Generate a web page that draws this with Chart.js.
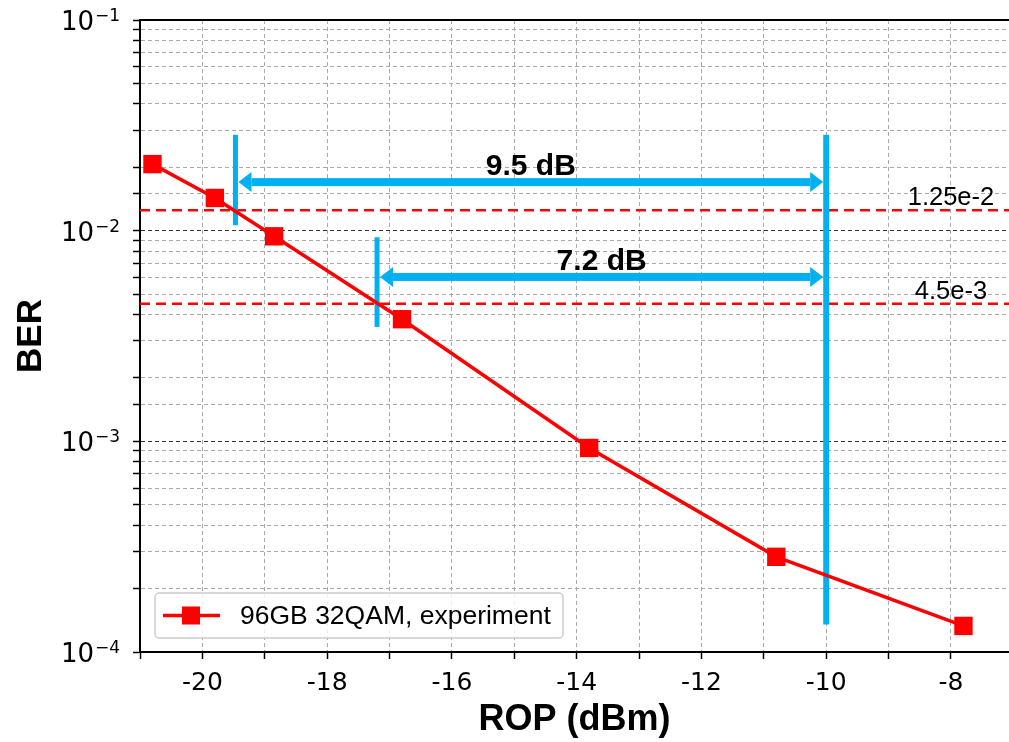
<!DOCTYPE html>
<html>
<head>
<meta charset="utf-8">
<script src="https://cdn.jsdelivr.net/npm/chart.js@4.4.0/dist/chart.umd.min.js"></script>
<style>
  html, body { margin: 0; padding: 0; background: #fff; overflow: hidden; }
  #wrap { width: 1009px; height: 742px; position: relative; }
</style>
</head>
<body>
<div id="wrap"><canvas id="chart"></canvas></div>
<script>
// measured points
const ropDbm = [-20.8, -19.8, -18.85, -16.8, -13.8, -10.8, -7.8];
const berValues = [2.07e-2, 1.43e-2, 9.4e-3, 3.8e-3, 9.3e-4, 2.83e-4, 1.33e-4];

// FEC thresholds
const fecLimits = [1.25e-2, 4.5e-3];
const fecLabels = ["1.25e-2", "4.5e-3"];
const fecLabelX = -8;

// power margin markers
const marginStart = [-19.47, -17.2];
const marginEnd = -10;
const marginLabels = ["9.5 dB", "7.2 dB"];
const marginArrowY = [1.7e-2, 6.03e-3];
const marginLineTop = [2.85e-2, 9.3e-3];
const marginLineBottom = [1.06e-2, 3.49e-3];
const refLineSpan = [2.85e-2, 1.35e-4];

// axes
const xMin = -21;
const xMax = -7.07;
const yMin = 1e-4;
const yMax = 1e-1;
const yDecades = [1e-4, 1e-3, 1e-2, 1e-1];
const yDecadeExp = ["\u22124", "\u22123", "\u22122", "\u22121"];

const RED = "#ff0000";
const BLUE = "#00b0f0";
const ARIAL = "'Liberation Sans', Arial, sans-serif";
const DEJAVU = "'DejaVu Sans', sans-serif";

Chart.defaults.font.family = DEJAVU;
Chart.defaults.color = "#000";

function isDecade(v) {
  const l = Math.log10(v);
  return Math.abs(l - Math.round(l)) < 1e-6;
}

function vline(x, top, bottom, width) {
  return {
    type: "line",
    data: [{ x: x, y: top }, { x: x, y: bottom }],
    borderColor: BLUE,
    borderWidth: width,
    pointRadius: 0,
    order: 1,
  };
}

const datasets = [
  {
    label: "96GB 32QAM, experiment",
    type: "line",
    data: ropDbm.map((x, i) => ({ x, y: berValues[i] })),
    borderColor: RED,
    backgroundColor: RED,
    borderWidth: 3.5,
    pointStyle: "rect",
    pointRadius: 13,
    pointBorderWidth: 0,
    order: 0,
  },
  vline(marginEnd, refLineSpan[0], refLineSpan[1], 6),
];
marginStart.forEach((x, i) => {
  datasets.push(vline(x, marginLineTop[i], marginLineBottom[i], 5));
});
fecLimits.forEach((v) => {
  datasets.push({
    type: "line",
    data: [{ x: xMin, y: v }, { x: xMax, y: v }],
    borderColor: RED,
    borderWidth: 2.5,
    borderDash: [10, 6],
    pointRadius: 0,
    order: 2,
  });
});

function drawArrow(ctx, x1, x2, y) {
  const head = 13;
  const half = 10;
  ctx.fillStyle = BLUE;
  ctx.fillRect(x1 + head, y - 4, x2 - x1 - 2 * head, 8);
  ctx.beginPath();
  ctx.moveTo(x1, y);
  ctx.lineTo(x1 + head, y - half);
  ctx.lineTo(x1 + head, y + half);
  ctx.closePath();
  ctx.fill();
  ctx.beginPath();
  ctx.moveTo(x2, y);
  ctx.lineTo(x2 - head, y - half);
  ctx.lineTo(x2 - head, y + half);
  ctx.closePath();
  ctx.fill();
}

const annotations = {
  id: "annotations",
  afterDatasetsDraw(chart) {
    const { ctx, chartArea } = chart;
    const xs = chart.scales.x;
    const ys = chart.scales.y;
    ctx.save();

    // top frame line
    ctx.strokeStyle = "#000";
    ctx.lineWidth = 2;
    ctx.beginPath();
    ctx.moveTo(chartArea.left, chartArea.top);
    ctx.lineTo(chartArea.right, chartArea.top);
    ctx.stroke();

    // margin arrows + labels
    const xEnd = xs.getPixelForValue(marginEnd);
    marginStart.forEach((x, i) => {
      const x1 = xs.getPixelForValue(x) + 3;
      const x2 = xEnd - 3;
      const py = ys.getPixelForValue(marginArrowY[i]);
      drawArrow(ctx, x1, x2, py);
      ctx.fillStyle = "#000";
      ctx.font = "bold 30px " + ARIAL;
      ctx.textAlign = "center";
      ctx.textBaseline = "alphabetic";
      ctx.fillText(marginLabels[i], (x1 + x2) / 2, py - 7);
    });

    // FEC threshold labels
    ctx.font = "25.5px " + ARIAL;
    ctx.fillStyle = "#000";
    ctx.textAlign = "center";
    fecLimits.forEach((v, i) => {
      ctx.fillText(fecLabels[i], xs.getPixelForValue(fecLabelX), ys.getPixelForValue(v) - 5);
    });
    ctx.restore();
  },
  afterDraw(chart) {
    const { ctx, chartArea } = chart;
    const ys = chart.scales.y;
    ctx.save();

    // y tick labels as 10^n
    ctx.fillStyle = "#000";
    ctx.textBaseline = "alphabetic";
    yDecades.forEach((v, i) => {
      const py = ys.getPixelForValue(v);
      ctx.font = "26px " + DEJAVU;
      ctx.textAlign = "right";
      ctx.fillText("10", chartArea.left - 46, py + 10);
      ctx.font = "17px " + DEJAVU;
      ctx.textAlign = "left";
      ctx.fillText(yDecadeExp[i], chartArea.left - 45, py + 1);
    });

    // legend
    const lx = chartArea.left + 15;
    const ly = chartArea.bottom - 59;
    const lw = 408;
    const lh = 45;
    ctx.beginPath();
    ctx.roundRect(lx, ly, lw, lh, 4);
    ctx.fillStyle = "rgba(255,255,255,0.8)";
    ctx.fill();
    ctx.strokeStyle = "#cccccc";
    ctx.lineWidth = 1.5;
    ctx.stroke();
    const cy = ly + lh / 2;
    ctx.strokeStyle = RED;
    ctx.lineWidth = 3.5;
    ctx.beginPath();
    ctx.moveTo(lx + 8, cy);
    ctx.lineTo(lx + 65, cy);
    ctx.stroke();
    ctx.fillStyle = RED;
    ctx.fillRect(lx + 27, cy - 9, 18, 18);
    ctx.fillStyle = "#000";
    ctx.font = "26.5px " + ARIAL;
    ctx.textAlign = "left";
    ctx.textBaseline = "middle";
    ctx.fillText(datasets[0].label, lx + 85, cy + 1);
    ctx.restore();
  },
};

new Chart(document.getElementById("chart"), {
  type: "line",
  data: { datasets },
  options: {
    responsive: true,
    maintainAspectRatio: false,
    animation: false,
    devicePixelRatio: 1,
    layout: { autoPadding: false, padding: { top: 20, left: 0, right: 0, bottom: 0 } },
    plugins: {
      legend: { display: false },
      tooltip: { enabled: false },
    },
    scales: {
      x: {
        type: "linear",
        min: xMin,
        max: xMax,
        afterFit(scale) {
          scale.height = 90;
          scale.paddingLeft = 0;
          scale.paddingRight = 0;
        },
        ticks: {
          stepSize: 1,
          includeBounds: false,
          autoSkip: false,
          maxRotation: 0,
          padding: 9,
          font: { size: 25, family: DEJAVU },
          color: "#000",
          callback: (v) => (v % 2 === 0 ? String(v) : ""),
        },
        grid: {
          color: "#aaaaaa",
          lineWidth: 1,
          tickColor: "#000",
          tickLength: 7,
          tickWidth: 1.5,
        },
        border: { display: true, color: "#000", width: 2, dash: [4, 3] },
        title: {
          display: true,
          text: "ROP (dBm)",
          color: "#000",
          font: { family: ARIAL, size: 36, weight: "bold" },
          padding: { top: 0, bottom: 0 },
        },
      },
      y: {
        type: "logarithmic",
        min: yMin,
        max: yMax,
        afterFit(scale) {
          scale.width = 140;
          scale.paddingTop = 0;
          scale.paddingBottom = 0;
        },
        ticks: { display: false },
        grid: {
          color: (c) => (c.tick && isDecade(c.tick.value) ? "#333333" : "#aaaaaa"),
          lineWidth: 1,
          tickColor: "#000",
          tickLength: 7,
          tickWidth: 1.5,
        },
        border: { display: true, color: "#000", width: 2, dash: [4, 3] },
        title: {
          display: true,
          text: "BER",
          color: "#000",
          font: { family: ARIAL, size: 35, weight: "bold" },
          padding: { top: 10, bottom: 0 },
        },
      },
    },
  },
  plugins: [annotations],
});
</script>
</body>
</html>
